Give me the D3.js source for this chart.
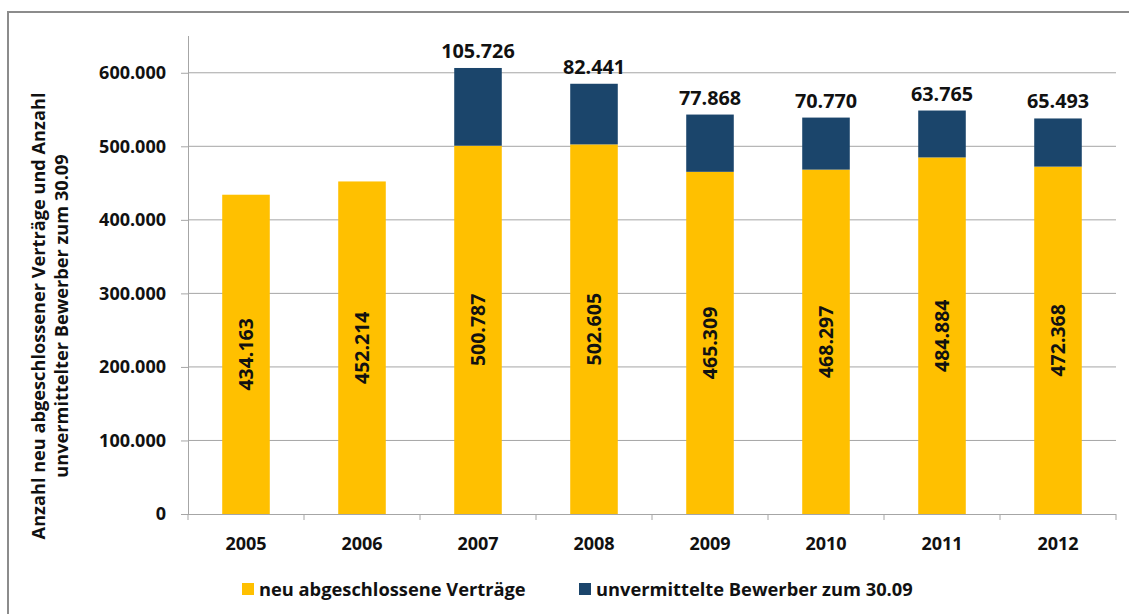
<!DOCTYPE html>
<html>
<head>
<meta charset="utf-8">
<script src="https://cdn.jsdelivr.net/npm/d3@7"></script>
<style>
  body { margin: 0; background: #fff; }
  svg text { font-family: "Open Sans", Lato, sans-serif; font-weight: bold; fill: #111; }
</style>
</head>
<body>
<svg width="1129" height="614"></svg>
<script>
var years = ['2005', '2006', '2007', '2008', '2009', '2010', '2011', '2012'];
var vertraege = [434163, 452214, 500787, 502605, 465309, 468297, 484884, 472368];
var bewerber = [null, null, 105726, 82441, 77868, 70770, 63765, 65493];
var yTicks = [0, 100000, 200000, 300000, 400000, 500000, 600000];
var seriesNames = ['neu abgeschlossene Verträge', 'unvermittelte Bewerber zum 30.09'];
var colors = ['#ffc000', '#1b456b'];

var de = d3.formatLocale({decimal: ',', thousands: '.', grouping: [3], currency: ['', '€']});
var fmt = de.format(',');

var svg = d3.select('svg');

// chart frame
svg.append('path')
    .attr('d', 'M8,620 V12 H1135')
    .attr('fill', 'none')
    .attr('stroke', '#8c8c8c')
    .attr('stroke-width', 2);

var margin = {left: 188, right: 1116, top: 36, bottom: 514};

var x = d3.scaleBand()
    .domain(years)
    .range([margin.left, margin.right]);

var y = d3.scaleLinear()
    .domain([0, 650000])
    .range([margin.bottom, margin.top]);

// gridlines
svg.append('g')
  .selectAll('line')
  .data(yTicks.slice(1))
  .enter().append('line')
    .attr('x1', margin.left)
    .attr('x2', margin.right)
    .attr('y1', d => y(d))
    .attr('y2', d => y(d))
    .attr('stroke', '#a6a6a6')
    .attr('stroke-width', 1);

// y axis
var yAxis = svg.append('g')
    .attr('transform', 'translate(' + margin.left + ',0)')
    .call(d3.axisLeft(y).tickValues(yTicks).tickFormat(d => d === 0 ? '0' : fmt(d)).tickSize(7).tickPadding(15));
yAxis.select('.domain').attr('stroke', '#a6a6a6').attr('d', 'M0.5,' + margin.top + 'V' + margin.bottom);
yAxis.selectAll('.tick line').attr('stroke', '#a6a6a6');
yAxis.selectAll('.tick text').style('font-size', '18px').attr('fill', '#111');

// x axis
var xAxis = svg.append('g')
    .attr('transform', 'translate(0,' + margin.bottom + ')')
    .call(d3.axisBottom(x).tickSize(0).tickPadding(23));
xAxis.select('.domain').attr('stroke', '#a6a6a6').attr('d', 'M' + margin.left + ',0.5H' + margin.right);
xAxis.selectAll('.tick text').style('font-size', '18px').attr('fill', '#111');
xAxis.selectAll('.sep')
  .data(d3.range(years.length + 1))
  .enter().append('line')
    .attr('x1', i => margin.left + i * x.step())
    .attr('x2', i => margin.left + i * x.step())
    .attr('y1', 0)
    .attr('y2', 6)
    .attr('stroke', '#a6a6a6');

var barW = x.bandwidth() * 0.41;

var rows = years.map((yr, i) => ({year: yr, a: vertraege[i], b: bewerber[i]}));

// yellow bars
svg.append('g')
  .selectAll('rect')
  .data(rows)
  .enter().append('rect')
    .attr('x', d => x(d.year) + (x.bandwidth() - barW) / 2)
    .attr('width', barW)
    .attr('y', d => y(d.a))
    .attr('height', d => y(0) - y(d.a))
    .attr('fill', colors[0]);

// blue bars
svg.append('g')
  .selectAll('rect')
  .data(rows.filter(d => d.b))
  .enter().append('rect')
    .attr('x', d => x(d.year) + (x.bandwidth() - barW) / 2)
    .attr('width', barW)
    .attr('y', d => y(d.a + d.b))
    .attr('height', d => y(d.a) - y(d.a + d.b))
    .attr('fill', colors[1]);

// labels inside yellow bars
svg.append('g')
  .selectAll('text')
  .data(rows)
  .enter().append('text')
    .attr('transform', d => 'translate(' + (x(d.year) + x.bandwidth() / 2 + 7) + ',' + (y(d.a / 2)) + ') rotate(-90)')
    .attr('text-anchor', 'middle')
    .style('font-size', '19.5px')
    .text(d => fmt(d.a));

// labels above blue bars
svg.append('g')
  .selectAll('text')
  .data(rows.filter(d => d.b))
  .enter().append('text')
    .attr('x', d => x(d.year) + x.bandwidth() / 2)
    .attr('y', d => y(d.a + d.b) - 10)
    .attr('text-anchor', 'middle')
    .style('font-size', '19.8px')
    .text(d => fmt(d.b));

// y axis title
var title = svg.append('text')
    .attr('transform', 'translate(45,316) rotate(-90)')
    .attr('text-anchor', 'middle')
    .style('font-size', '18.2px');
title.append('tspan').attr('x', 0).attr('dy', 0).text('Anzahl neu abgeschlossener Verträge und Anzahl');
title.append('tspan').attr('x', 0).attr('dy', 23).text('unvermittelter Bewerber zum 30.09');

// legend
var legendX = [242, 579];
var legend = svg.append('g')
  .selectAll('g')
  .data(seriesNames)
  .enter().append('g')
    .attr('transform', (d, i) => 'translate(' + legendX[i] + ',583)');
legend.append('rect')
    .attr('width', 12)
    .attr('height', 12)
    .attr('fill', (d, i) => colors[i]);
legend.append('text')
    .attr('x', 17)
    .attr('y', 12.5)
    .style('font-size', '18.3px')
    .text(d => d);
</script>
</body>
</html>
